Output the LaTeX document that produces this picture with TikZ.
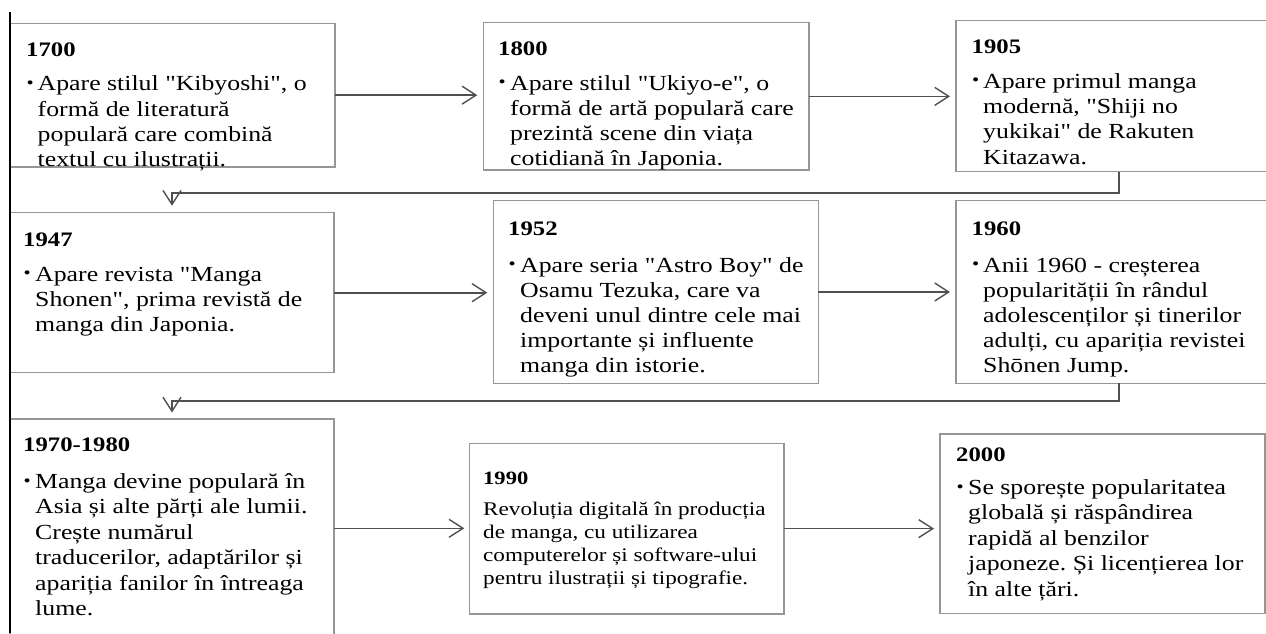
\documentclass[tikz,border=0pt]{standalone}
\usepackage{fontspec}
\newfontfamily\tlfont{Liberation Serif}[FakeStretch=1.2]
\usetikzlibrary{arrows.meta}
\definecolor{boxgray}{RGB}{150,150,150}
\definecolor{conngray}{RGB}{80,80,80}
\newcommand{\tlpar}[3]{\parbox[t]{330pt}{\raggedright\frenchspacing\tlfont\fontsize{#1}{#2}\selectfont #3}}
\tikzset{
  box/.style={draw=boxgray, line width=1.3pt, rectangle, inner sep=0pt, outer sep=0pt, anchor=north west},
  conn/.style={draw=conngray, line width=1.6pt, -{Straight Barb[length=14pt,width=18pt,line width=1.4pt]}},
  ttl/.style={anchor=base west, inner sep=0pt, font=\tlfont\bfseries\fontsize{20.6}{24}\selectfont},
  ttlsmall/.style={anchor=base west, inner sep=0pt, font=\tlfont\bfseries\fontsize{18.8}{22}\selectfont},
  bdy/.style={anchor=base west, inner sep=0pt, font=\tlfont},
  bul/.style={anchor=base west, inner sep=0pt, font=\tlfont\fontsize{17}{17}\selectfont},
}
\newcommand{\tlbul}{\raisebox{2.5pt}{•}}
\begin{document}
\begin{tikzpicture}[x=1pt,y=-1pt]
\useasboundingbox (0,0) rectangle (1266,633);
\clip (0,0) rectangle (1266,633);
\fill[white] (0,0) rectangle (1266,633);

% boxes
\node[box, minimum width=325pt, minimum height=143.7pt] (b1700) at (10,23.3) {};
\node[box, minimum width=325.7pt, minimum height=147.3pt] (b1800) at (483.3,22.7) {};
\node[box, minimum width=326pt, minimum height=151pt] (b1905) at (956,20.7) {};
\node[box, minimum width=324pt, minimum height=160pt] (b1947) at (10,212.7) {};
\node[box, minimum width=325pt, minimum height=182.6pt] (b1952) at (493.3,200.7) {};
\node[box, minimum width=326pt, minimum height=182.6pt] (b1960) at (956,200.7) {};
\node[box, minimum width=324pt, minimum height=218.6pt] (b1970) at (10,419) {};
\node[box, minimum width=314.7pt, minimum height=170.7pt] (b1990) at (469.3,443.3) {};
\node[box, minimum width=325pt, minimum height=179.3pt] (b2000) at (940,434) {};

% left rule
\draw[black, line width=1.6pt] (10,12) -- (10,633);

% texts
\node[ttl] (t1700) at (26,56.7) {1700};
\node[bul] (u1700) at (26.5,90.7) {\tlbul};
\node[bdy] (d1700) at (37.5,90.7) {\tlpar{21.5}{25.3}{Apare stilul "Kibyoshi", o\\formă de literatură\\populară care combină\\textul cu ilustrații.}};

\node[ttl] (t1800) at (498,55.5) {1800};
\node[bul] (u1800) at (498.5,90) {\tlbul};
\node[bdy] (d1800) at (510,90) {\tlpar{21.5}{25.3}{Apare stilul "Ukiyo-e", o\\formă de artă populară care\\prezintă scene din viața\\cotidiană în Japonia.}};

\node[ttl] (t1905) at (971.5,53.5) {1905};
\node[bul] (u1905) at (972,88.3) {\tlbul};
\node[bdy] (d1905) at (983,88.3) {\tlpar{21.5}{25.3}{Apare primul manga\\modernă, "Shiji no\\yukikai" de Rakuten\\Kitazawa.}};

\node[ttl] (t1947) at (23,246) {1947};
\node[bul] (u1947) at (23.5,281) {\tlbul};
\node[bdy] (d1947) at (35,281) {\tlpar{21.5}{25}{Apare revista "Manga\\Shonen", prima revistă de\\manga din Japonia.}};

\node[ttl] (t1952) at (508,235) {1952};
\node[bul] (u1952) at (508.5,272) {\tlbul};
\node[bdy] (d1952) at (520,272) {\tlpar{21.5}{25}{Apare seria "Astro Boy" de\\Osamu Tezuka, care va\\deveni unul dintre cele mai\\importante și influente\\manga din istorie.}};

\node[ttl] (t1960) at (971.5,235) {1960};
\node[bul] (u1960) at (972,272) {\tlbul};
\node[bdy] (d1960) at (983,272) {\tlpar{21.5}{25}{Anii 1960 - creșterea\\popularității în rândul\\adolescenților și tinerilor\\adulți, cu apariția revistei\\Shōnen Jump.}};

\node[ttl] (t1970) at (23,451) {1970-1980};
\node[bul] (u1970) at (23.5,488.5) {\tlbul};
\node[bdy] (d1970) at (35,488.5) {\tlpar{21.5}{25.4}{Manga devine populară în\\Asia și alte părți ale lumii.\\Crește numărul\\traducerilor, adaptărilor și\\apariția fanilor în întreaga\\lume.}};

\node[ttlsmall] (t1990) at (483,484) {1990};
\node[bdy] (d1990) at (483,515) {\tlpar{19.3}{23}{Revoluția digitală în producția\\de manga, cu utilizarea\\computerelor și software-ului\\pentru ilustrații și tipografie.}};

\node[ttl] (t2000) at (956,461) {2000};
\node[bul] (u2000) at (956.5,494.5) {\tlbul};
\node[bdy] (d2000) at (968,494.5) {\tlpar{21.5}{25.4}{Se sporește popularitatea\\globală și răspândirea\\rapidă al benzilor\\japoneze. Și licențierea lor\\în alte țări.}};

% connectors
\draw[conn, shorten >=6pt] (b1700.east) -- (b1700.east -| b1800.west);
\draw[conn, shorten >=6pt] (b1800.east) -- (b1800.east -| b1905.west);
\draw[conn, shorten >=7pt] (b1905.south) -- ++(0,21) -| (b1947.north);
\draw[conn, shorten >=6pt] (b1947.east) -- (b1947.east -| b1952.west);
\draw[conn, shorten >=6pt] (b1952.east) -- (b1952.east -| b1960.west);
\draw[conn, shorten >=6.5pt] (b1960.south) -- ++(0,17.5) -| (b1970.north);
\draw[conn, shorten >=5pt] (b1970.east) -- (b1970.east -| b1990.west);
\draw[conn, shorten >=6pt] (b1990.east) -- (b1990.east -| b2000.west);
\end{tikzpicture}
\end{document}
